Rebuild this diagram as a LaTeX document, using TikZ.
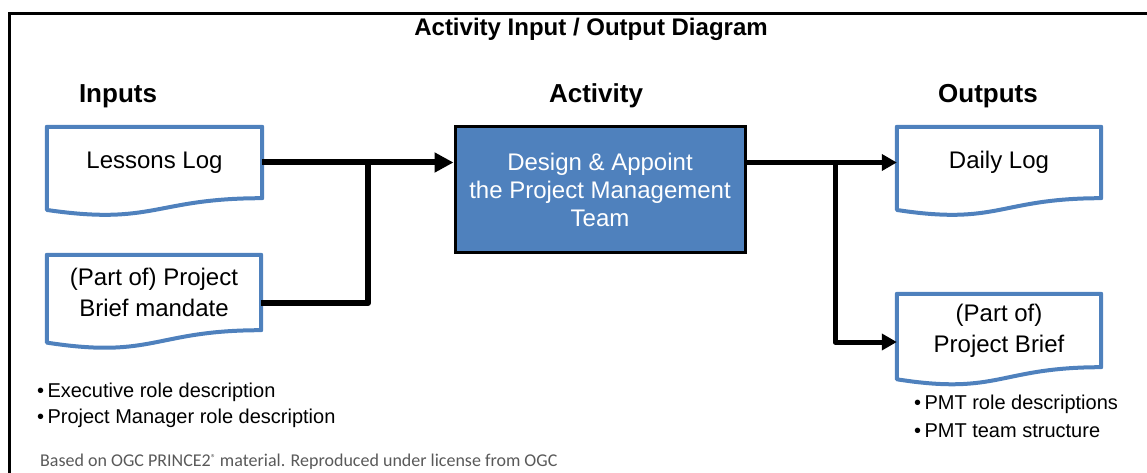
\documentclass[tikz,border=0pt]{standalone}
\usepackage{fontspec}
\setmainfont{Liberation Sans}
\newfontfamily\footfont{Carlito}
\usetikzlibrary{arrows.meta,calc}
\definecolor{docblue}{HTML}{4F81BD}
\definecolor{footgray}{HTML}{595959}
\tikzset{
  docnode/.style={rectangle, inner sep=0pt, font=\fontsize{24}{31}\selectfont, align=center},
  docline/.style={draw=docblue, line width=4pt, line join=round},
  actnode/.style={rectangle, draw=black, line width=3pt, fill=docblue, text=white,
     minimum width=290pt, minimum height=125pt, inner sep=0pt,
     font=\fontsize{24}{28}\selectfont, align=center},
  header/.style={font=\bfseries\fontsize{26}{30}\selectfont},
  inline/.style={line width=6pt, line join=round, -{Triangle[length=19pt,width=19pt]}},
  inlineplain/.style={line width=6pt, line join=round},
  outline/.style={line width=5pt, line join=round, -{Triangle[length=15pt,width=16pt]}},
  bullets/.style={font=\fontsize{20}{26}\selectfont, align=left, inner sep=0pt},
}
\newcommand\docpath[1]{%
  \draw[docline] let \p1=(#1.north west), \p2=(#1.south east) in
    (\x1,\y1) -- (\x2,\y1) -- (\x2,\y2)
    .. controls ({0.5*(\x1+\x2)},\y2) and ({0.5*(\x1+\x2)},{\y1+1.3848*(\y2-\y1)}) ..
    (\x1,{\y1+1.1646*(\y2-\y1)}) -- cycle;}
\begin{document}
\begin{tikzpicture}[x=1pt,y=-1pt]
\useasboundingbox (0,0) rectangle (1147,473);
% frame
\draw[line width=3pt] (9,474) -- (9,14) -- (1148,14);
% title and headers
\node[font=\bfseries\fontsize{24}{28}\selectfont] (title) at (591,29) {Activity Input / Output Diagram};
\node[header] (hin) at (118,96) {Inputs};
\node[header] (hact) at (596,96) {Activity};
\node[header] (hout) at (988,96) {Outputs};
% documents
\node[docnode, minimum width=215pt, minimum height=71pt] (lessons) at (154.5,162.5) {Lessons Log};
\node[docnode, minimum width=214pt, minimum height=75pt] (brief) at (154,292.5) {(Part of) Project\\Brief mandate};
\node[docnode, minimum width=204pt, minimum height=71pt] (daily) at (999,162.5) {Daily Log};
\node[docnode, minimum width=204pt, minimum height=73pt] (pbrief) at (999,330.5) {(Part of)\\Project Brief};
\docpath{lessons}
\docpath{brief}
\docpath{daily}
\docpath{pbrief}
% activity
\node[actnode] (act) at (600,189.5) {Design \& Appoint\\the Project Management\\Team};
% connectors
\coordinate (j1) at (368,162.5);
\coordinate (j2) at (835,162.5);
\draw[inline] (lessons.east) -- (lessons.east -| act.west);
\draw[inlineplain] ([yshift=-10.5pt]brief.east) -| (j1);
\draw[outline] (act.east |- daily.west) -- (daily.west);
\draw[outline] (j2) |- ([yshift=-11.5pt]pbrief.west);
% bullets
\node[bullets, anchor=west] (b1) at (37,392) {\textbullet\,Executive role description};
\node[bullets, anchor=west] (b2) at (37,418) {\textbullet\,Project Manager role description};
\node[bullets, anchor=west] (b3) at (914,404) {\textbullet\,PMT role descriptions};
\node[bullets, anchor=west] (b4) at (914,431) {\textbullet\,PMT team structure};
% footer
\node[font=\footfont\fontsize{18}{21}\selectfont, text=footgray, anchor=west, inner sep=0pt] (foot) at (40,462) {Based on OGC PRINCE2\raisebox{5pt}{\fontsize{10}{10}\selectfont ®} material. Reproduced under license from OGC};
\end{tikzpicture}
\end{document}
